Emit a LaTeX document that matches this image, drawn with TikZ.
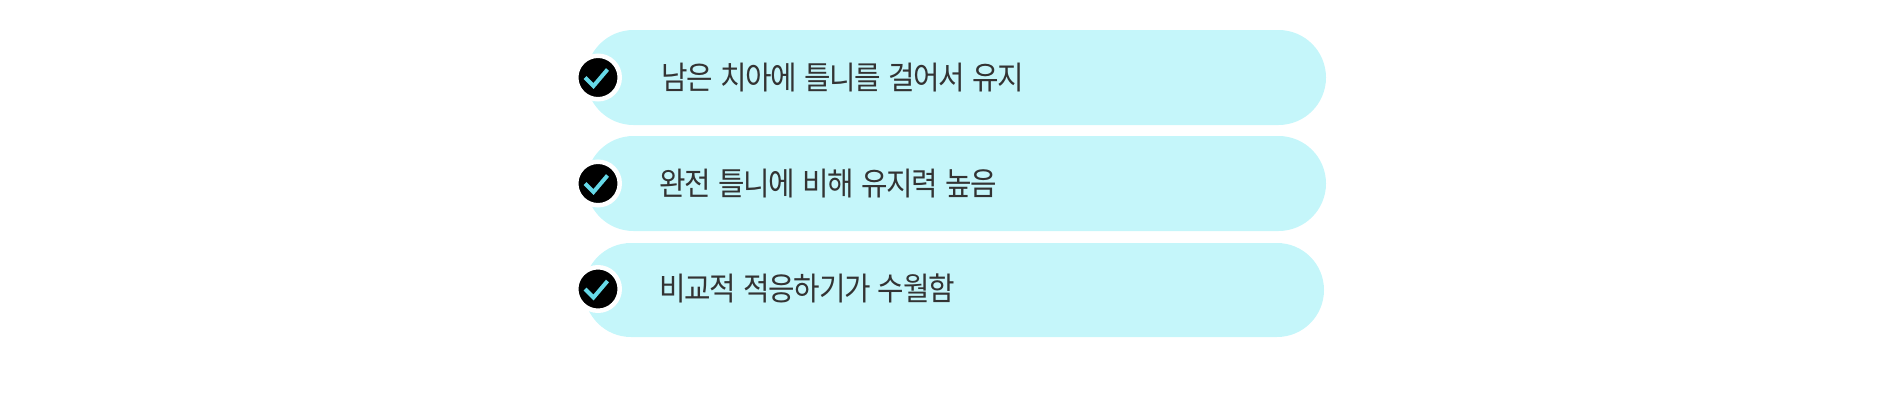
\documentclass[tikz,border=0pt]{standalone}
\usepackage{fontspec}
\newfontfamily\krfont[FakeStretch=0.9,LetterSpace=-4,WordSpace=1.4]{Noto Sans CJK KR}
\usetikzlibrary{shapes.misc}
\definecolor{pillc}{HTML}{C5F6FA}
\definecolor{checkc}{HTML}{66D9E8}
\definecolor{txtc}{HTML}{333333}
\begin{document}
\begin{tikzpicture}[x=1pt,y=-1pt,
  pill/.style={rounded rectangle, fill=pillc, minimum height=95pt, minimum width=740pt, inner sep=0pt},
  badge/.style={circle, fill=black, draw=white, line width=4.5pt, minimum size=43.5pt, inner sep=0pt},
  checkmark/.style={draw=checkc, line width=4pt},
  txt/.style={font=\krfont\fontsize{32pt}{38pt}\selectfont, text=txtc, inner sep=0pt, anchor=west}]
\useasboundingbox (0,0) rectangle (1903,418);
\node[pill] (p1) at (956,77.5) {};
\node[pill] (p2) at (956,183.5) {};
\node[pill, minimum height=94pt] (p3) at (954,290) {};
\foreach \i/\y in {1/77.5,2/183.5,3/289}{
  \node[badge] (c\i) at (598,\y) {};
  \draw[checkmark] ([shift={(-13,0)}]c\i.center) -- ([shift={(-4.5,8.5)}]c\i.center) -- ([shift={(9.5,-8)}]c\i.center);
}
\node[txt] (t1) at (661,77.5) {남은 치아에 틀니를 걸어서 유지};
\node[txt] (t2) at (659,184) {완전 틀니에 비해 유지력 높음};
\node[txt] (t3) at (659,288) {비교적 적응하기가 수월함};
\end{tikzpicture}
\end{document}
